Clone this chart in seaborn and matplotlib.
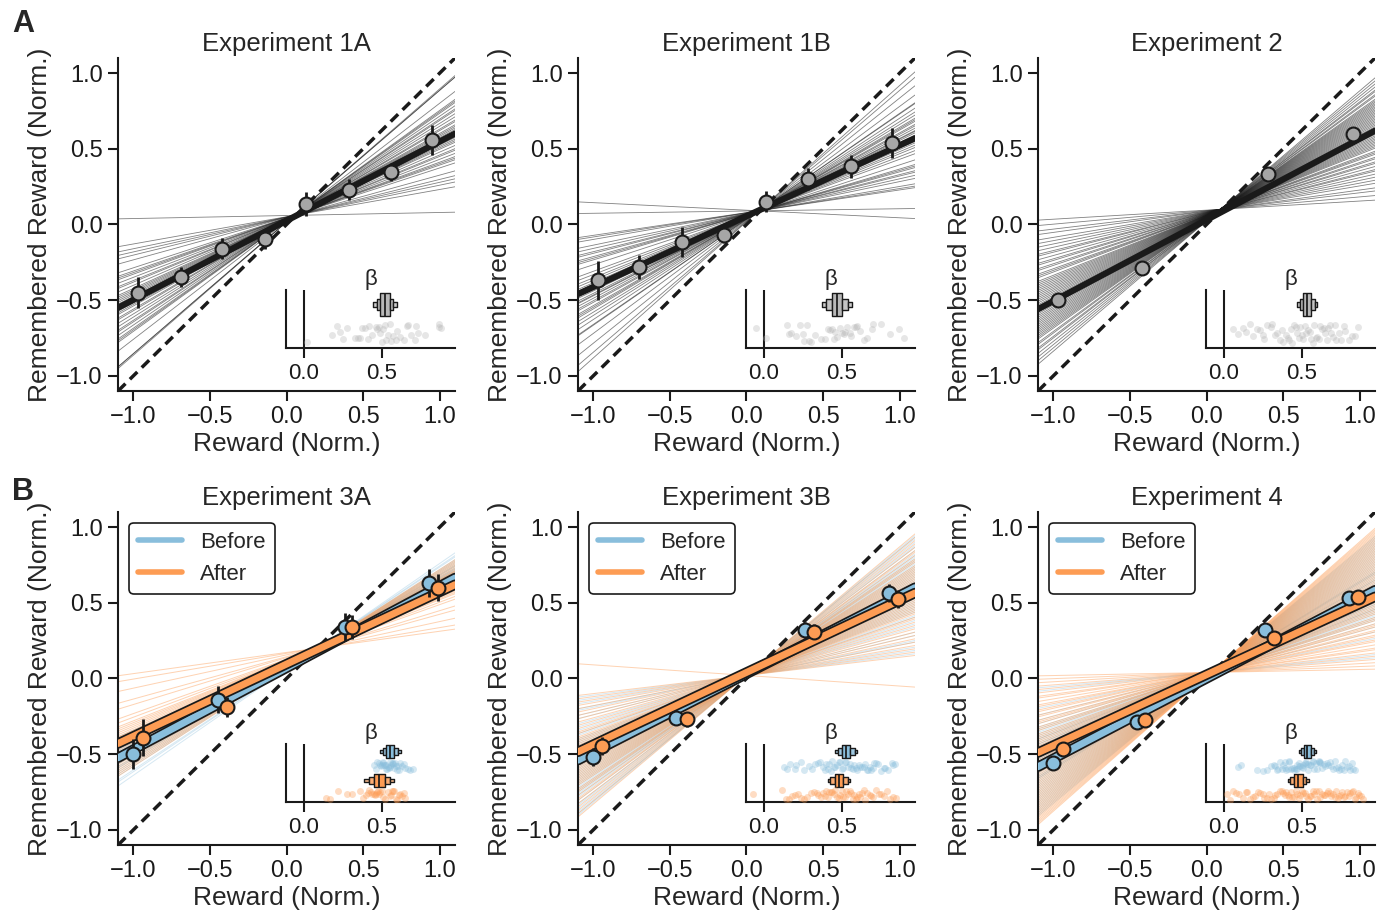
import numpy as np
import pandas as pd
import matplotlib.pyplot as plt
import matplotlib.patheffects as pe
from matplotlib.lines import Line2D
import seaborn as sns

sns.set_theme(style='ticks')
plt.rcParams['font.family'] = ['Liberation Sans', 'DejaVu Sans']
plt.rcParams.update({
    'axes.linewidth': 1.5,
    'xtick.major.width': 1.5, 'ytick.major.width': 1.5,
    'xtick.major.size': 7.5, 'ytick.major.size': 7.5,
    'xtick.labelsize': 17, 'ytick.labelsize': 17,
    'axes.labelsize': 19, 'axes.titlesize': 18.5,
    'axes.edgecolor': '#1a1a1a',
    'xtick.color': '#1a1a1a', 'ytick.color': '#1a1a1a',
})

BLUE = '#89bedc'
ORANGE = '#fd9c54'
GRAY = '#a6a6a6'
X_END = [-1.1, 1.1]

# ---------------- row A: single condition experiments ----------------
titles_a = ['Experiment 1A', 'Experiment 1B', 'Experiment 2']

# binned means (x, y, sem)
bins_x_1a = [-0.97, -0.69, -0.42, -0.14, 0.13, 0.41, 0.68, 0.95]
bins_y_1a = [-0.45, -0.35, -0.16, -0.095, 0.135, 0.23, 0.345, 0.56]
bins_e_1a = [0.10, 0.066, 0.07, 0.066, 0.08, 0.07, 0.06, 0.10]

bins_x_1b = [-0.97, -0.70, -0.42, -0.15, 0.13, 0.40, 0.68, 0.95]
bins_y_1b = [-0.37, -0.28, -0.115, -0.07, 0.15, 0.30, 0.385, 0.54]
bins_e_1b = [0.13, 0.08, 0.10, 0.055, 0.07, 0.075, 0.077, 0.10]

bins_x_2 = [-0.97, -0.42, 0.40, 0.955]
bins_y_2 = [-0.50, -0.29, 0.33, 0.60]
bins_e_2 = [0.03, 0.025, 0.025, 0.03]

# group-level fit (slope, intercept)
group_1a = (0.523, 0.025)
group_1b = (0.468, 0.055)
group_2 = (0.536, 0.03)

# point where the subject fits cross
pivot_1a = (0.05, 0.06)
pivot_1b = (0.08, 0.09)
pivot_2 = (0.09, 0.10)

# subject slopes
slopes_1a = [0.02, 0.18, 0.21, 0.23, 0.25, 0.28, 0.33, 0.35, 0.36, 0.37,
             0.39, 0.41, 0.42, 0.44, 0.46, 0.47, 0.48, 0.49, 0.50, 0.51,
             0.52, 0.53, 0.54, 0.55, 0.56, 0.57, 0.59, 0.60, 0.62, 0.64,
             0.66, 0.67, 0.69, 0.71, 0.72, 0.73, 0.78, 0.87, 0.87, 0.88]
slopes_1b = [-0.05, 0.015, 0.15, 0.16, 0.175, 0.21, 0.23, 0.25, 0.26, 0.28,
             0.29, 0.30, 0.33, 0.37, 0.39, 0.41, 0.425, 0.44, 0.45, 0.46,
             0.47, 0.49, 0.505, 0.515, 0.52, 0.535, 0.55, 0.56, 0.58, 0.59,
             0.60, 0.62, 0.64, 0.665, 0.695, 0.70, 0.75, 0.81, 0.865, 0.90]
slopes_2 = [0.06, 0.09, 0.12, 0.14, 0.17, 0.19, 0.21, 0.23, 0.25, 0.26,
            0.28, 0.30, 0.31, 0.33, 0.34, 0.36, 0.37, 0.38, 0.40, 0.41,
            0.42, 0.43, 0.44, 0.45, 0.46, 0.47, 0.48, 0.49, 0.50, 0.51,
            0.52, 0.53, 0.54, 0.55, 0.56, 0.57, 0.58, 0.59, 0.60, 0.61,
            0.62, 0.63, 0.64, 0.65, 0.66, 0.67, 0.68, 0.69, 0.70, 0.71,
            0.72, 0.74, 0.75, 0.77, 0.78, 0.80, 0.82, 0.84, 0.86]

# posterior samples of group slope (for the letter-value boxes)
post_1a = [0.42, 0.445, 0.47, 0.485, 0.49, 0.50, 0.51, 0.515,
           0.525, 0.53, 0.54, 0.55, 0.555, 0.57, 0.595, 0.62]
post_1b = [0.35, 0.375, 0.40, 0.43, 0.44, 0.45, 0.46, 0.465,
           0.475, 0.48, 0.49, 0.50, 0.51, 0.54, 0.565, 0.59]
post_2 = [0.455, 0.47, 0.49, 0.505, 0.51, 0.515, 0.525, 0.53,
          0.535, 0.54, 0.55, 0.555, 0.565, 0.58, 0.595, 0.61]

# ---------------- row B: before / after experiments ----------------
titles_b = ['Experiment 3A', 'Experiment 3B', 'Experiment 4']

bx_3a_before = [-1.0, -0.45, 0.38, 0.93]
by_3a_before = [-0.50, -0.14, 0.34, 0.63]
be_3a_before = [0.10, 0.09, 0.09, 0.09]
bx_3a_after = [-0.94, -0.39, 0.43, 0.99]
by_3a_after = [-0.39, -0.19, 0.34, 0.60]
be_3a_after = [0.12, 0.065, 0.08, 0.09]

bx_3b_before = [-1.0, -0.46, 0.38, 0.93]
by_3b_before = [-0.52, -0.26, 0.32, 0.565]
be_3b_before = [0.06, 0.05, 0.05, 0.06]
bx_3b_after = [-0.94, -0.39, 0.44, 0.99]
by_3b_after = [-0.445, -0.27, 0.31, 0.525]
be_3b_after = [0.06, 0.05, 0.05, 0.06]

bx_4_before = [-1.0, -0.455, 0.38, 0.93]
by_4_before = [-0.56, -0.285, 0.32, 0.53]
be_4_before = [0.04, 0.03, 0.03, 0.04]
bx_4_after = [-0.94, -0.40, 0.44, 0.99]
by_4_after = [-0.465, -0.275, 0.27, 0.54]
be_4_after = [0.04, 0.03, 0.03, 0.04]

group_3a = {'before': (0.54, 0.07), 'after': (0.477, 0.095)}
group_3b = {'before': (0.518, 0.03), 'after': (0.477, 0.04)}
group_4 = {'before': (0.53, 0.0), 'after': (0.468, 0.025)}

pivot_3a = (0.2, 0.2)
pivot_3b = (0.0, 0.02)
pivot_4 = (0.03, 0.04)

slopes_3a_before = [0.45, 0.46, 0.47, 0.48, 0.49, 0.495, 0.50, 0.505, 0.51, 0.515,
                    0.52, 0.525, 0.53, 0.535, 0.54, 0.545, 0.55, 0.555, 0.56, 0.565,
                    0.57, 0.575, 0.58, 0.585, 0.59, 0.60, 0.605, 0.61, 0.62, 0.63,
                    0.64, 0.65, 0.67, 0.68, 0.70]
slopes_3a_after = [0.14, 0.17, 0.22, 0.28, 0.31, 0.36, 0.38, 0.40, 0.41, 0.42,
                   0.43, 0.44, 0.45, 0.455, 0.46, 0.47, 0.475, 0.48, 0.49, 0.50,
                   0.51, 0.52, 0.54, 0.55, 0.56, 0.565, 0.57, 0.58, 0.59, 0.60,
                   0.61, 0.62, 0.63, 0.64, 0.65]
slopes_3b_before = [0.13, 0.15, 0.17, 0.20, 0.21, 0.24, 0.26, 0.29, 0.31, 0.33,
                    0.35, 0.36, 0.38, 0.39, 0.40, 0.41, 0.42, 0.43, 0.44, 0.45,
                    0.46, 0.47, 0.48, 0.49, 0.50, 0.51, 0.52, 0.53, 0.54, 0.55,
                    0.56, 0.57, 0.58, 0.59, 0.60, 0.61, 0.62, 0.63, 0.64, 0.65,
                    0.66, 0.67, 0.68, 0.69, 0.70, 0.71, 0.72, 0.73, 0.75, 0.77,
                    0.78, 0.80, 0.82, 0.83, 0.84]
slopes_3b_after = [-0.07, 0.12, 0.14, 0.16, 0.18, 0.20, 0.22, 0.24, 0.26, 0.28,
                   0.30, 0.32, 0.34, 0.35, 0.37, 0.38, 0.39, 0.40, 0.41, 0.42,
                   0.43, 0.44, 0.45, 0.46, 0.47, 0.48, 0.49, 0.50, 0.51, 0.52,
                   0.53, 0.54, 0.55, 0.56, 0.57, 0.58, 0.59, 0.60, 0.61, 0.62,
                   0.63, 0.64, 0.65, 0.66, 0.68, 0.69, 0.70, 0.72, 0.74, 0.75,
                   0.77, 0.79, 0.81, 0.83, 0.85]
slopes_4_before = [0.09, 0.11, 0.21, 0.25, 0.28, 0.30, 0.32, 0.33, 0.34, 0.35,
                   0.36, 0.37, 0.38, 0.39, 0.39, 0.40, 0.41, 0.42, 0.42, 0.43,
                   0.44, 0.45, 0.45, 0.46, 0.47, 0.47, 0.48, 0.48, 0.49, 0.50,
                   0.51, 0.51, 0.52, 0.53, 0.53, 0.54, 0.54, 0.55, 0.56, 0.57,
                   0.57, 0.58, 0.59, 0.60, 0.61, 0.61, 0.62, 0.62, 0.63, 0.64,
                   0.65, 0.66, 0.67, 0.68, 0.69, 0.70, 0.71, 0.72, 0.73, 0.74,
                   0.75, 0.76, 0.77, 0.78, 0.79, 0.80, 0.81, 0.82, 0.83, 0.84]
slopes_4_after = [0.02, 0.04, 0.06, 0.08, 0.10, 0.12, 0.14, 0.15, 0.17, 0.19,
                  0.20, 0.22, 0.23, 0.25, 0.26, 0.28, 0.29, 0.30, 0.32, 0.33,
                  0.34, 0.36, 0.37, 0.38, 0.39, 0.40, 0.41, 0.42, 0.43, 0.44,
                  0.45, 0.46, 0.47, 0.48, 0.49, 0.50, 0.51, 0.52, 0.53, 0.54,
                  0.55, 0.56, 0.57, 0.58, 0.59, 0.60, 0.61, 0.62, 0.63, 0.64,
                  0.65, 0.66, 0.67, 0.68, 0.69, 0.70, 0.71, 0.72, 0.73, 0.74,
                  0.75, 0.76, 0.77, 0.78, 0.79, 0.80, 0.81, 0.82, 0.83, 0.84,
                  0.85, 0.86, 0.87, 0.88, 0.89]

post_3a_before = [0.47, 0.49, 0.51, 0.525, 0.53, 0.54, 0.55, 0.552,
                  0.558, 0.56, 0.57, 0.58, 0.585, 0.60, 0.62, 0.64]
post_3a_after = [0.37, 0.39, 0.42, 0.445, 0.45, 0.465, 0.475, 0.48,
                 0.488, 0.495, 0.505, 0.515, 0.525, 0.55, 0.58, 0.60]
post_3b_before = [0.45, 0.46, 0.48, 0.50, 0.505, 0.515, 0.525, 0.528,
                  0.533, 0.54, 0.545, 0.555, 0.56, 0.58, 0.60, 0.61]
post_3b_after = [0.40, 0.41, 0.43, 0.45, 0.455, 0.47, 0.478, 0.48,
                 0.486, 0.49, 0.50, 0.51, 0.515, 0.535, 0.555, 0.565]
post_4_before = [0.47, 0.48, 0.495, 0.51, 0.515, 0.52, 0.53, 0.533,
                 0.538, 0.54, 0.55, 0.555, 0.56, 0.575, 0.59, 0.60]
post_4_after = [0.40, 0.41, 0.43, 0.445, 0.45, 0.46, 0.47, 0.475,
                0.48, 0.485, 0.495, 0.505, 0.51, 0.525, 0.545, 0.555]


def subject_frame(slopes, pivot):
    px, py = pivot
    rows = []
    for i, b in enumerate(slopes):
        for x in X_END:
            rows.append((i, x, py + b * (x - px)))
    return pd.DataFrame(rows, columns=['subj', 'x', 'y'])


def group_frame(fit):
    b, a = fit
    return pd.DataFrame({'x': X_END, 'y': [a + b * x for x in X_END]})


def style_main(ax, title):
    ax.plot(X_END, X_END, color='k', ls='--', lw=2.5, dashes=(3, 1.8), zorder=3)
    ax.set_xlim(-1.1, 1.1)
    ax.set_ylim(-1.1, 1.1)
    ticks = [-1.0, -0.5, 0.0, 0.5, 1.0]
    ax.set_xticks(ticks)
    ax.set_yticks(ticks)
    ax.set_xlabel('Reward (Norm.)', labelpad=3)
    ax.set_ylabel('Remembered Reward (Norm.)', labelpad=3)
    ax.set_title(title, pad=5)
    sns.despine(ax=ax)


def draw_points(ax, xs, ys, es, color):
    ax.errorbar(xs, ys, yerr=es, fmt='none', ecolor='k', elinewidth=2, zorder=5)
    sns.scatterplot(x=xs, y=ys, color=color, edgecolor='k', linewidth=1.5,
                    s=100, zorder=6, ax=ax, legend=False)


def draw_inset(ax, groups, box_width):
    ins = ax.inset_axes([0.498, 0.129, 0.502, 0.174])
    ins.set_facecolor('none')
    order = []
    for name, _, _, _ in groups:
        order += [name + '_post', name + '_subj']
    for name, subj, post, col in groups:
        sdf = pd.DataFrame({'beta': subj, 'row': name + '_subj'})
        pdf = pd.DataFrame({'beta': post, 'row': name + '_post'})
        sns.stripplot(data=sdf, x='beta', y='row', order=order, color=col,
                      alpha=0.35, size=5, jitter=0.33, linewidth=0, ax=ins)
        sns.boxenplot(data=pdf, x='beta', y='row', order=order, color=col,
                      saturation=1, width=box_width, k_depth=3, showfliers=False,
                      linecolor='k', linewidth=1, ax=ins)
    ins.axvline(0, color='k', lw=1.5)
    ins.set_xlim(-0.115, 0.97)
    ins.set_xticks([0.0, 0.5])
    ins.set_xticklabels(['0.0', '0.5'])
    ins.tick_params(axis='x', labelsize=16)
    ins.set_yticks([])
    ins.set_xlabel('')
    ins.set_ylabel('')
    ins.set_title('β', fontsize=16, pad=4)
    sns.despine(ax=ins)


fig = plt.figure(figsize=(13.87, 9.15), dpi=100)
lefts = [0.0851, 0.4167, 0.7484]
bottoms = [0.5727, 0.0765]
W, H = 0.243, 0.364

row_a = [
    (bins_x_1a, bins_y_1a, bins_e_1a, group_1a, pivot_1a, slopes_1a, post_1a),
    (bins_x_1b, bins_y_1b, bins_e_1b, group_1b, pivot_1b, slopes_1b, post_1b),
    (bins_x_2, bins_y_2, bins_e_2, group_2, pivot_2, slopes_2, post_2),
]
for j, (bx, by, be, grp, piv, slopes, post) in enumerate(row_a):
    ax = fig.add_axes([lefts[j], bottoms[0], W, H])
    sdf = subject_frame(slopes, piv)
    sns.lineplot(data=sdf, x='x', y='y', units='subj', estimator=None, sort=False,
                 color='k', lw=0.6, alpha=0.55, zorder=1, ax=ax, legend=False)
    gdf = group_frame(grp)
    sns.lineplot(data=gdf, x='x', y='y', color='k', lw=4.5, zorder=4, ax=ax)
    draw_points(ax, bx, by, be, GRAY)
    style_main(ax, titles_a[j])
    draw_inset(ax, [('g', slopes, post, '#b8b8b8')], 0.8)

row_b = [
    ((bx_3a_before, by_3a_before, be_3a_before), (bx_3a_after, by_3a_after, be_3a_after),
     group_3a, pivot_3a, slopes_3a_before, slopes_3a_after, post_3a_before, post_3a_after),
    ((bx_3b_before, by_3b_before, be_3b_before), (bx_3b_after, by_3b_after, be_3b_after),
     group_3b, pivot_3b, slopes_3b_before, slopes_3b_after, post_3b_before, post_3b_after),
    ((bx_4_before, by_4_before, be_4_before), (bx_4_after, by_4_after, be_4_after),
     group_4, pivot_4, slopes_4_before, slopes_4_after, post_4_before, post_4_after),
]
for j, (pts_b, pts_a, grp, piv, sl_b, sl_a, po_b, po_a) in enumerate(row_b):
    ax = fig.add_axes([lefts[j], bottoms[1], W, H])
    for slopes, col, al in [(sl_b, BLUE, 0.35), (sl_a, ORANGE, 0.45)]:
        sdf = subject_frame(slopes, piv)
        sns.lineplot(data=sdf, x='x', y='y', units='subj', estimator=None, sort=False,
                     color=col, lw=0.7, alpha=al, zorder=1, ax=ax, legend=False)
    for key, col in [('before', BLUE), ('after', ORANGE)]:
        gdf = group_frame(grp[key])
        sns.lineplot(data=gdf, x='x', y='y', color=col, lw=5, zorder=4, ax=ax,
                     path_effects=[pe.Stroke(linewidth=7.5, foreground='k'), pe.Normal()])
    draw_points(ax, *pts_b, BLUE)
    draw_points(ax, *pts_a, ORANGE)
    style_main(ax, titles_b[j])
    handles = [Line2D([], [], color=BLUE, lw=4), Line2D([], [], color=ORANGE, lw=4)]
    leg = ax.legend(handles, ['Before', 'After'], loc='upper left', fontsize=16,
                    frameon=True, framealpha=1, edgecolor='k', borderaxespad=0.5)
    leg.get_frame().set_linewidth(1.2)
    draw_inset(ax, [('b', sl_b, po_b, BLUE), ('a', sl_a, po_a, ORANGE)], 0.9)

fig.text(0.009, 0.965, 'A', fontsize=22, fontweight='bold')
fig.text(0.009, 0.4536, 'B', fontsize=22, fontweight='bold')

fig.savefig('out.png', dpi=100)
